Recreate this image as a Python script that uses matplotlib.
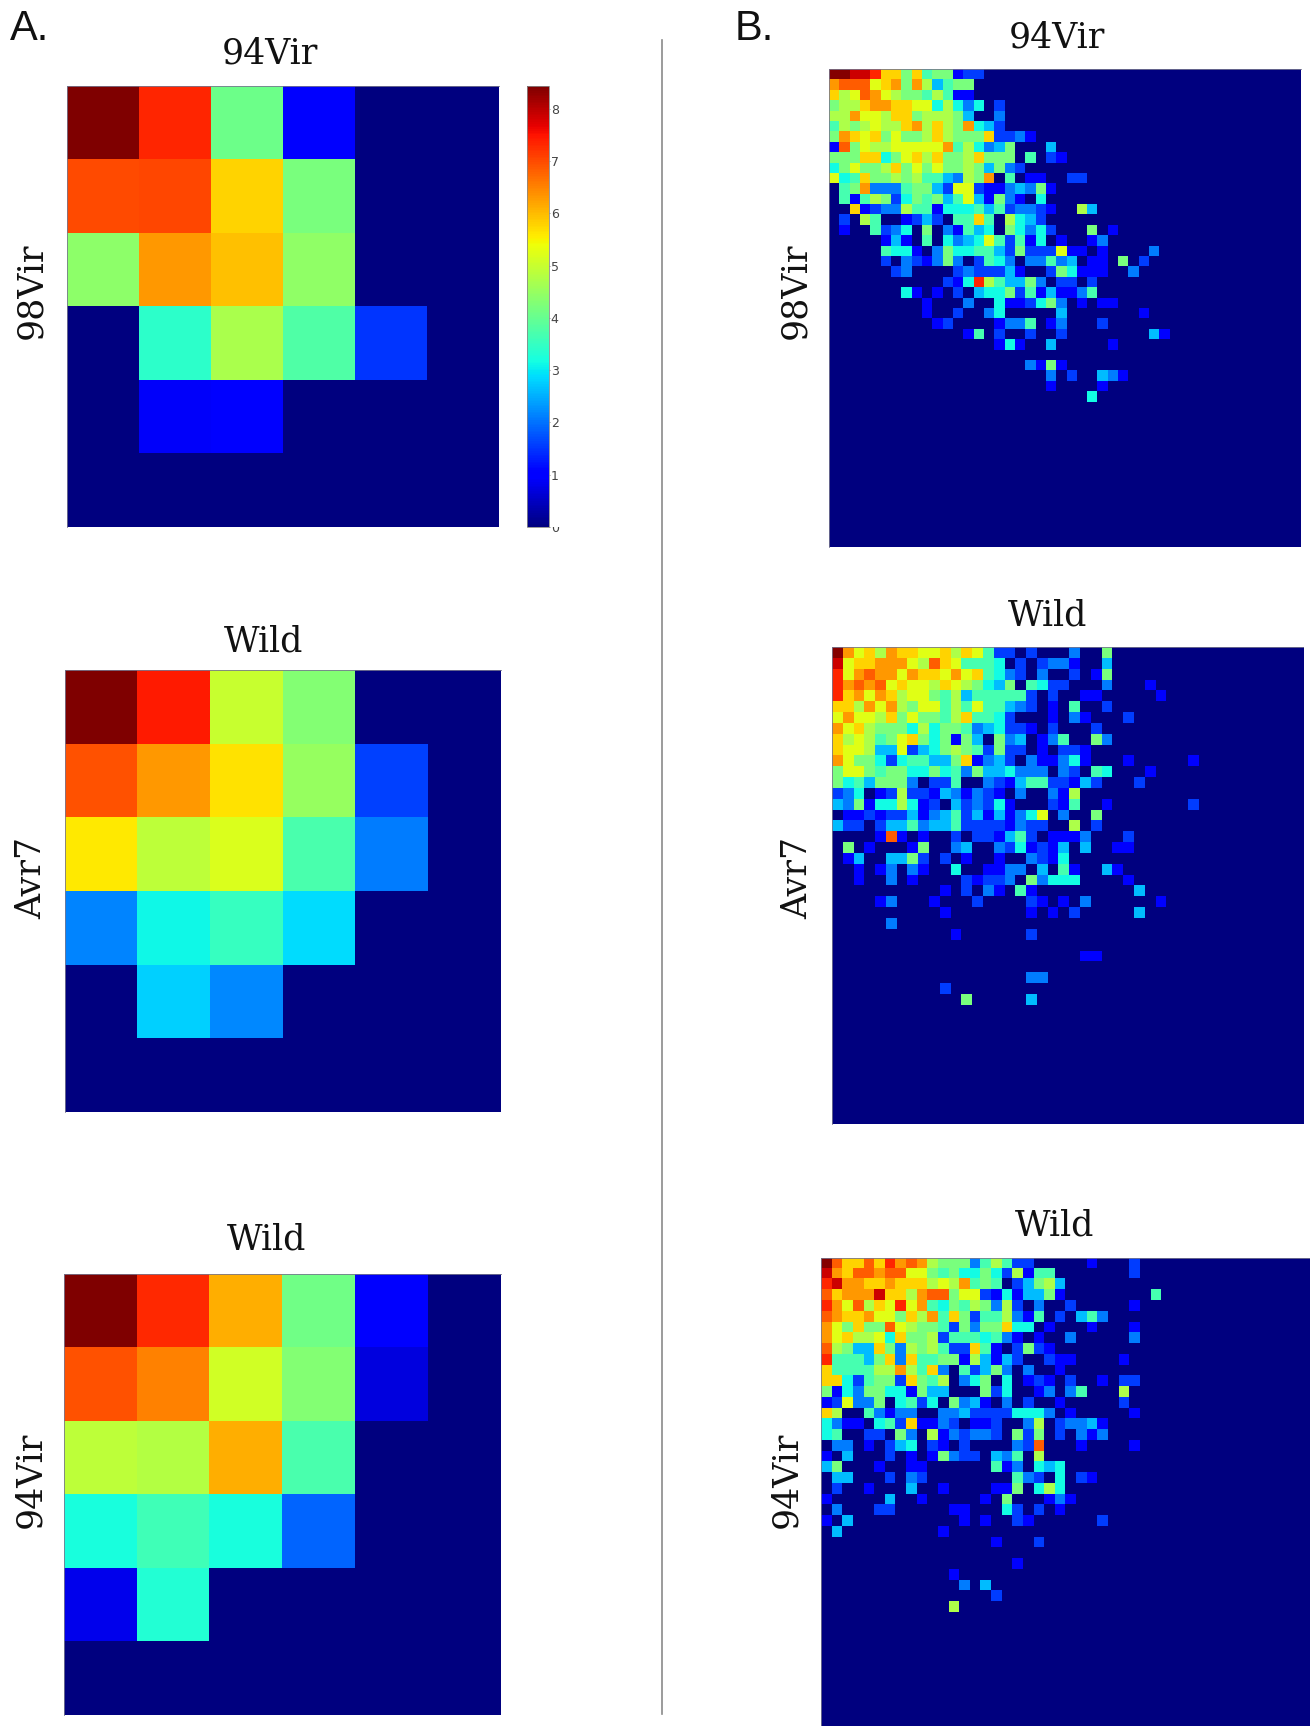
import matplotlib
matplotlib.use("Agg")
import matplotlib.pyplot as plt
import numpy as np
from matplotlib.transforms import Bbox

W, H = 1310, 1726
VMAX = 8.44
LEVEL = 8.4 / 16  # one character of a row string = one step on the colour scale

A1_VALUES = [[8.44, 7.35, 4.08, 1.0, 0, 0],
             [7.0, 7.05, 5.77, 4.2, 0, 0],
             [4.4, 6.3, 5.95, 4.45, 0, 0],
             [0, 3.4, 4.7, 3.77, 1.5, 0],
             [0, 0.9, 1.0, 0, 0, 0],
             [0, 0, 0, 0, 0, 0]]
A2_VALUES = [[8.44, 7.45, 5.0, 4.3, 0, 0],
             [6.95, 6.3, 5.65, 4.5, 1.6, 0],
             [5.6, 4.9, 5.2, 3.7, 2.1, 0],
             [2.15, 3.1, 3.5, 2.9, 0, 0],
             [0, 2.8, 2.2, 0, 0, 0],
             [0, 0, 0, 0, 0, 0]]
A3_VALUES = [[8.44, 7.3, 6.1, 4.1, 1.0, 0],
             [6.95, 6.5, 5.1, 4.3, 0.7, 0],
             [4.9, 4.8, 6.1, 3.7, 0, 0],
             [3.2, 3.6, 3.2, 1.9, 0, 0],
             [0.8, 3.3, 0, 0, 0, 0],
             [0, 0, 0, 0, 0, 0]]

B1_ROWS = [
    "ggffebb8b788233",
    "cdddabc8c95788",
    "b9adca98879722",
    "899bccbbaa6964603",
    "99caa9bb899985004",
    "7989a99bc9b98c653",
    "8cbab8a889b9888b3342",
    "2d8a99aaaaac796458" + "0005",
    "888bb68ab9b889b888" + "07032",
    "68a889b8a8a88985843",
    "a67b88989775498c070220033",
    "078c44478853aa32245482",
    "0727983687857a5284206",
    "00b23449772666757344320095",
    "03097002353077b709653",
    "0200734608042756086463" + "000802",
    "00000" + "2520706456a73726" + "020024",
    "00000" + "766204866775" + "38333a22" + "02" + "00004",
    "00000" + "30432484037640447450220803",
    "000000" + "340000343335200386222004",
    "0" * 11 + "326e97558403303",
    "0" * 7 + "6202030566837252247",
    "0" * 9 + "2000400" + "622368402022",
    "0" * 9 + "2" + "00" + "3" + "00" + "46" + "00000" + "5" + "0000000" + "2",
    "0" * 10 + "23" + "0000" + "2447" + "0" + "24" + "000" + "3",
    "0" * 13 + "27" + "0" + "3" + "00" + "3" + "00" + "3" + "0" * 8 + "52",
    "0" * 16 + "262" + "00" + "5" + "00000" + "2",
    "",
    "0" * 19 + "4282",
    "0" * 21 + "4" + "0" + "3" + "00" + "542",
    "0" * 21 + "2" + "0000" + "2",
    "0" * 25 + "6",
]
B2_ROWS = [
    "gcab9cbbaab9ba7" + "33" + "03" + "000" + "4" + "00" + "8",
    "fabbccca9dba7776" + "0303442" + "005",
    "eacdccacbbacab764304003028",
    "ecdcdabaa9ba98658076330004" + "0002",
    "ebcacb9aa8795777773030022" + "000002",
    "bb9cac98aa797a775430207003",
    "acaa9b8a8879b776300020420003",
    "cab9888696887456332030003",
    "b9a978ab86828508450247" + "0084",
    "baa955a35689873833020332",
    "ca8863677558b24530422462" + "0002" + "00000" + "2",
    "8aa87886686748556444" + "043076" + "0002",
    "8675888403370043257733253" + "0003",
    "34602393325424320400429",
    "54826696230534362000327002" + "0" * 7 + "3",
    "0223233524573525246a04008",
    "5330355745573333243300903",
    "0000" + "2d202" + "00" + "30332573" + "0" + "2224" + "000" + "3",
    "0802000280045004362325050022",
    "0250055830302002004326",
    "002024042006002244050720052",
    "0020040200003233408466600002",
    "0" * 10 + "203042072" + "0" * 9 + "5",
    "0000" + "24" + "000" + "2" + "000" + "3" + "0000" + "32" + "0" + "2" + "0" + "4" + "000000" + "2",
    "0" * 10 + "2" + "0" * 7 + "2" + "0" + "2" + "0" + "3" + "0" * 5 + "5",
    "00000" + "4",
    "0" * 11 + "2" + "0" * 6 + "3",
    "",
    "0" * 23 + "22",
    "",
    "0" * 18 + "44",
    "0" * 10 + "3",
    "0" * 12 + "8" + "0" * 5 + "5",
]
B3_ROWS = [
    "gdbbdbecdc9888479733" + "00000" + "2" + "000" + "3",
    "fcbddcddaa" + "878668639277" + "0000000" + "3",
    "efccbbcbbb" + "9a9c787035895",
    "dbcccfbb9c" + "dd8aa32625582" + "00000000" + "7",
    "ecad9baeac" + "76879849304003" + "00000" + "2",
    "dcbbcaa8b9" + "c7b83779427030574",
    "ca8b88da98" + "8738488b6602" + "000" + "2" + "000" + "2",
    "cab99a6b88" + "93777674202004" + "00000" + "4",
    "d9855b8498" + "9733b7203832",
    "e77758b4b7" + "78829525300322" + "0000" + "2",
    "b777799c97" + "b407358404002",
    "bb637883b8" + "79046806023203002033",
    "8264886628" + "550008360024047" + "0009",
    "23a4480673" + "6084520403002" + "00000" + "3",
    "b900742440" + "04453333666402" + "00000" + "2",
    "64220673b2" + "24302230049034452",
    "6700330840" + "92434430838030424",
    "0440203560" + "3203000043d0002" + "0000" + "2",
    "2050003020" + "28433054709",
    "5800020022" + "000000" + "724" + "0" + "656",
    "0550003043" + "0" * 8 + "743" + "0" + "6" + "0" + "32",
    "0300200050" + "02" + "0000" + "228" + "0" + "696",
    "2000005002" + "00000" + "2" + "0" + "8" + "000" + "242",
    "0400033" + "00000" + "22" + "000" + "63" + "0" + "3" + "0" + "2",
    "205" + "0" * 10 + "2" + "0" + "2" + "00" + "32" + "000000" + "3",
    "05" + "0" * 9 + "2",
    "0" * 16 + "2" + "000" + "3",
    "",
    "0" * 18 + "2",
    "0" * 12 + "2",
    "0" * 13 + "4" + "0" + "5",
    "0" * 16 + "3",
    "0" * 12 + "9",
]

CBAR_TICKS = [0, 1, 2, 3, 4, 5, 6, 7, 8]
A_TITLES = ["94Vir", "Wild", "Wild"]
A_YLABELS = ["98Vir", "Avr7", "94Vir"]
B_TITLES = ["94Vir", "Wild", "Wild"]
B_YLABELS = ["98Vir", "Avr7", "94Vir"]


def rows_to_matrix(rows, ncols, nrows):
    m = np.zeros((nrows, ncols))
    for r, row in enumerate(rows):
        for c, ch in enumerate(row):
            m[r, c] = int(ch, 17) * LEVEL
    return m


fig = plt.figure(figsize=(W / 100, H / 100), dpi=100, facecolor="white")


def add_px_axes(l, t, r, b):
    return fig.add_axes([l / W, 1 - b / H, (r - l) / W, (b - t) / H])


def heat(box, matrix, visible=None):
    ax = add_px_axes(*box)
    im = ax.imshow(matrix, cmap="jet", vmin=0, vmax=VMAX, aspect="auto",
                   interpolation="nearest")
    if visible is not None:
        ax.set_xlim(-0.5, visible[0] - 0.5)
        ax.set_ylim(visible[1] - 0.5, -0.5)
    ax.set_xticks([])
    ax.set_yticks([])
    for name, s in ax.spines.items():
        if name in ("top", "left"):
            s.set_edgecolor("#77778f")
            s.set_linewidth(0.6)
        else:
            s.set_visible(False)
    return ax, im


def ftext(x, y, s, **kw):
    fig.text(x / W, 1 - y / H, s, ha="center", va="center", **kw)


A_BOXES = [(67, 86, 499, 527), (65, 670, 501, 1112), (64, 1274, 501, 1715)]
B_BOXES = [(828.5, 69, 1300.5, 546.7), (832, 647, 1303.3, 1124), (821, 1258, 1310, 1726)]
B_VISIBLE = [(45.7, 46), (43.76, 44), (46, 43.6)]
A_TITLE_POS = [(270, 54), (264, 642), (267, 1239)]
B_TITLE_POS = [(1057, 37), (1048, 616), (1055, 1225)]
A_YLABEL_POS = [(31, 291), (31, 878), (30, 1480)]
B_YLABEL_POS = [(795, 291), (797, 878), (786, 1480)]

serif = dict(family="DejaVu Serif", fontsize=25, color="#111111")

first_im = None
for box, vals, title, tp, yl, yp in zip(A_BOXES, [A1_VALUES, A2_VALUES, A3_VALUES],
                                        A_TITLES, A_TITLE_POS, A_YLABELS, A_YLABEL_POS):
    _, im = heat(box, np.array(vals, dtype=float))
    first_im = first_im or im
    ftext(*tp, title, **serif)
    ftext(*yp, yl, rotation=90, **serif)

b_mats = [rows_to_matrix(B1_ROWS, 46, 46), rows_to_matrix(B2_ROWS, 44, 44),
          rows_to_matrix(B3_ROWS, 46, 46)]
for box, m, title, tp, yl, yp, vis in zip(B_BOXES, b_mats, B_TITLES, B_TITLE_POS,
                                          B_YLABELS, B_YLABEL_POS, B_VISIBLE):
    heat(box, m, vis)
    ftext(*tp, title, **serif)
    ftext(*yp, yl, rotation=90, **serif)

# colour bar
cax = add_px_axes(527, 86, 549, 527)
cb = fig.colorbar(first_im, cax=cax)
cb.outline.set_edgecolor("#888888")
cb.outline.set_linewidth(0.6)
cb.set_ticks(CBAR_TICKS)
cb.ax.tick_params(length=0.8, width=0.5, labelsize=9, labelcolor="#444444",
                  color="#666666", pad=0.5)
fig.canvas.draw()
zero_label = cb.ax.get_yticklabels()[0]
zero_label.set_clip_on(True)
zero_label.set_clip_box(Bbox([[540, 0], [600, H - 527]]))

# panel letters and divider
fig.text(9.5 / W, 1 - 39.5 / H, "A.", ha="left", va="baseline", family="Liberation Sans",
         fontsize=30, color="#111111")
fig.text(735 / W, 1 - 39.5 / H, "B.", ha="left", va="baseline", family="Liberation Sans",
         fontsize=30, color="#111111")
fig.add_artist(plt.Line2D([662 / W, 662 / W], [1 - 40 / H, 1 - 1714 / H],
                          color="#8a8a8a", lw=1.2))

fig.savefig("out.png", dpi=100, facecolor="white")
